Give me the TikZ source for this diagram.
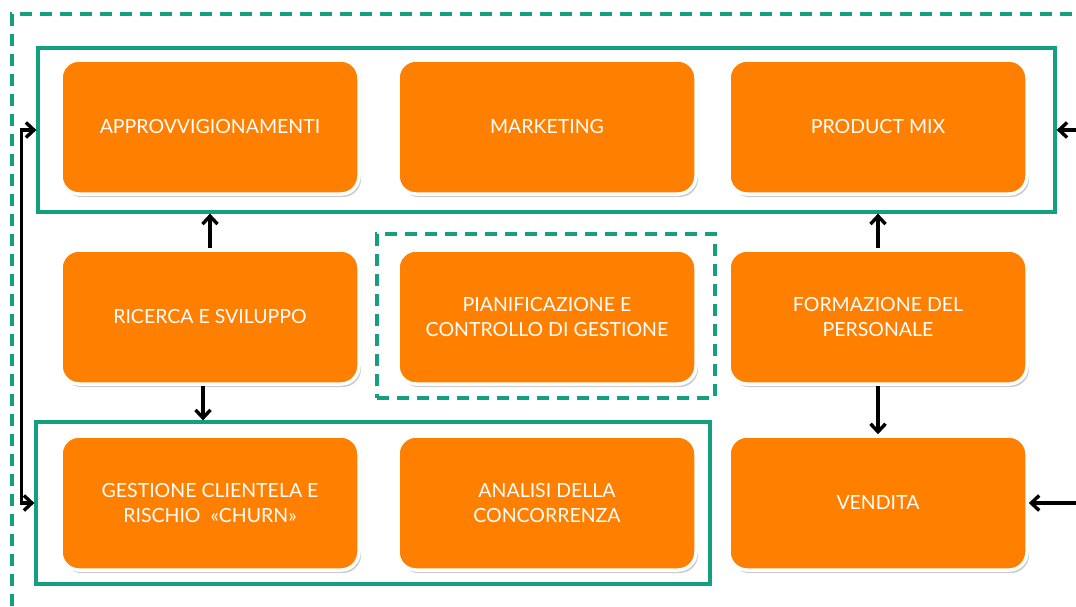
\documentclass[tikz,border=0pt]{standalone}
\usepackage{fontspec}
\setmainfont{Lato}
\usetikzlibrary{positioning, arrows.meta, shadows}
\definecolor{boxorange}{RGB}{255,127,0}
\definecolor{grpgreen}{RGB}{18,160,128}

\begin{document}
\begin{tikzpicture}[
  x=1pt, y=-1pt,
  font=\fontsize{19.5}{25}\selectfont,
  >={Straight Barb[length=8pt, width=15pt]},
  unit/.style={
    rectangle, rounded corners=18pt,
    draw=white, line width=3.5pt, fill=boxorange,
    text=white, align=center,
    minimum width=298pt, minimum height=134pt,
    drop shadow={shadow xshift=2pt, shadow yshift=-3pt, fill=black!40, opacity=.5},
  },
  grp/.style={rectangle, draw=grpgreen, line width=3.2pt, inner sep=0pt},
  dgrp/.style={grp, dash pattern=on 12pt off 8pt},
  flow/.style={draw=black, line width=3.4pt, ->},
]
\useasboundingbox (0,0) rectangle (1076,606);

% outer frame and groups
\node[dgrp, minimum width=1090pt, minimum height=620pt] (outer) at (557,324) {};
\node[grp, minimum width=1017pt, minimum height=164pt] (topgrp) at (546.5,130) {};
\node[grp, minimum width=674pt, minimum height=162pt] (botgrp) at (373,503) {};
\node[dgrp, minimum width=338pt, minimum height=164pt] (pcgframe) at (546,316) {};

% functions
\node[unit] (appr) at (210,127) {APPROVVIGIONAMENTI};
\node[unit] (mkt)  at (547,127) {MARKETING};
\node[unit] (mix)  at (878,127) {PRODUCT MIX};
\node[unit] (rs)   at (210,317) {RICERCA E SVILUPPO};
\node[unit] (pcg)  at (547,317) {PIANIFICAZIONE E\\CONTROLLO DI GESTIONE};
\node[unit] (form) at (878,317) {FORMAZIONE DEL\\PERSONALE};
\node[unit] (gest) at (210,503) {GESTIONE CLIENTELA E\\RISCHIO~~«CHURN»};
\node[unit] (conc) at (547,503) {ANALISI DELLA\\CONCORRENZA};
\node[unit] (vend) at (878,503) {VENDITA};

% links
\coordinate (inmix)  at (1076,130);
\coordinate (invend) at (1076,503);
\draw[flow] (rs.north) -- (rs.north |- topgrp.south);
\draw[flow] ([xshift=-7pt]rs.south) -- ([xshift=-7pt]rs.south |- botgrp.north);
\draw[flow] (form.north) -- (form.north |- topgrp.south);
\draw[flow] (form.south) -- (vend.north);
\draw[flow] (inmix) -- (topgrp.east);
\draw[flow] (invend) -- (vend.east);
\draw[flow, <->] (topgrp.west) -- ++(-15,0) |- (botgrp.west);

\end{tikzpicture}
\end{document}
